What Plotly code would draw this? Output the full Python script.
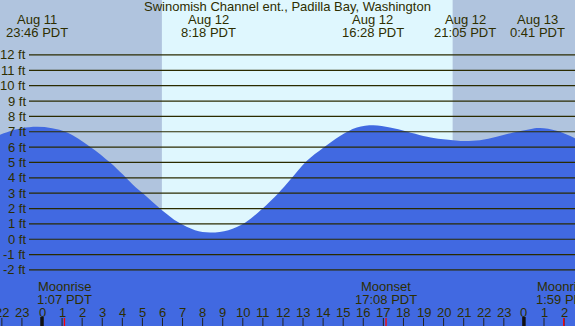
import plotly.graph_objects as go

# ---- data (hours since Aug 12 00:00 PDT) ----
tide_hours = [-2.09, -1.5, -1.0, -0.25, 0.5, 1.25, 2.39, 3.39, 4.03, 4.53, 5.08, 5.96,
              6.79, 7.62, 8.37, 9.28, 10.11, 10.94, 11.77, 12.35, 13.18, 14.01, 14.84,
              15.68, 16.50, 17.33, 18.16, 18.99, 19.5, 20.47, 20.98, 21.81, 22.64, 23.47,
              24.3, 24.8, 25.63, 26.54]
tide_feet = [6.80, 7.08, 7.23, 7.32, 7.23, 6.95, 6.03, 5.00, 4.21, 3.55, 2.93, 1.91,
             1.10, 0.59, 0.44, 0.59, 1.07, 1.95, 3.00, 3.85, 5.09, 5.96, 6.73,
             7.28, 7.43, 7.28, 7.02, 6.73, 6.60, 6.45, 6.40, 6.45, 6.67, 6.95,
             7.17, 7.24, 7.06, 6.58]

event_hours = [-0.233, 8.3, 16.467, 21.083, 24.683]
event_dates = ["Aug 11", "Aug 12", "Aug 12", "Aug 12", "Aug 13"]
event_clock = ["23:46 PDT", "8:18 PDT", "16:28 PDT", "21:05 PDT", "0:41 PDT"]

moon_hours = [1.117, 17.133, 25.983]
moon_names = ["Moonrise", "Moonset", "Moonrise"]
moon_clock = ["1:07 PDT", "17:08 PDT", "1:59 PDT"]

hour_ticks = list(range(-2, 27))
hour_labels = ["22", "23", "0", "1", "2", "3", "4", "5", "6", "7", "8", "9", "10", "11",
               "12", "13", "14", "15", "16", "17", "18", "19", "20", "21", "22", "23",
               "0", "1", "2"]
midnight_hours = [0, 24]

ft_levels = [12, 11, 10, 9, 8, 7, 6, 5, 4, 3, 2, 1, 0, -1, -2]
ft_labels = ["12 ft", "11 ft", "10 ft", "9 ft", "8 ft", "7 ft", "6 ft", "5 ft", "4 ft",
             "3 ft", "2 ft", "1 ft", "0 ft", "-1 ft", "-2 ft"]

sunrise_hour = 5.97
sunset_hour = 20.45

X0, X1 = -2.092, 26.544
Y0, Y1 = -5.65, 15.58
W, H = 575, 326

TXT = "#2e2e00"
FONT = "Liberation Sans"
NIGHT = "#b0c4de"
DAY = "#dff7fe"
WATER = "#4169e1"

def py(px):
    return 1 - px / H

fig = go.Figure()
fig.add_trace(go.Scatter(x=[X0 - 1, X1 + 1], y=[Y0 - 1, Y0 - 1], mode="lines",
                         line=dict(width=0), hoverinfo="skip", showlegend=False))
fig.add_trace(go.Scatter(x=tide_hours, y=tide_feet, mode="lines",
                         line=dict(width=0, shape="spline", smoothing=1.0),
                         fill="tonexty", fillcolor=WATER, hoverinfo="skip", showlegend=False))

shapes = []
# night bands
shapes.append(dict(type="rect", xref="x", yref="paper", x0=X0 - 1, x1=sunrise_hour,
                   y0=0, y1=1, fillcolor=NIGHT, line=dict(width=0), layer="below"))
shapes.append(dict(type="rect", xref="x", yref="paper", x0=sunset_hour, x1=X1 + 1,
                   y0=0, y1=1, fillcolor=NIGHT, line=dict(width=0), layer="below"))
# level lines
for lv in ft_levels:
    shapes.append(dict(type="line", xref="paper", yref="y", x0=29 / W, x1=1, y0=lv, y1=lv,
                       line=dict(color="#2b2b00", width=1.2), layer="above"))
# hour ticks
for h in hour_ticks:
    shapes.append(dict(type="line", xref="x", yref="paper", x0=h, x1=h, y0=0, y1=py(318),
                       line=dict(color="#222222", width=1), layer="above"))
for h in midnight_hours:
    shapes.append(dict(type="line", xref="x", yref="paper", x0=h, x1=h, y0=0, y1=py(317),
                       line=dict(color="#111111", width=3.5), layer="above"))
for h in moon_hours:
    shapes.append(dict(type="line", xref="x", yref="paper", x0=h, x1=h, y0=0, y1=py(318),
                       line=dict(color="#ff0000", width=1.3), layer="above"))

ann = []
f = dict(family=FONT, size=13, color=TXT)
ann.append(dict(text="Swinomish Channel ent., Padilla Bay, Washington", xref="paper", yref="paper",
                x=0.5, y=py(7), xanchor="center", yanchor="middle", showarrow=False, font=f,
                borderpad=0))
for h, d, c in zip(event_hours, event_dates, event_clock):
    ann.append(dict(text=d, xref="x", yref="paper", x=h, y=py(19), xanchor="center",
                    yanchor="middle", showarrow=False, font=f, borderpad=0))
    ann.append(dict(text=c, xref="x", yref="paper", x=h, y=py(32.5), xanchor="center",
                    yanchor="middle", showarrow=False, font=f, borderpad=0))
for lv, lab in zip(ft_levels, ft_labels):
    ann.append(dict(text=lab, xref="paper", yref="y", x=27 / W, y=lv, xanchor="right",
                    yanchor="middle", showarrow=False, font=f, borderpad=0))
for h, lab in zip(hour_ticks, hour_labels):
    ann.append(dict(text=lab, xref="x", yref="paper", x=h, y=py(312), xanchor="center",
                    yanchor="middle", showarrow=False, font=f, borderpad=0))
for h, n, c in zip(moon_hours, moon_names, moon_clock):
    ann.append(dict(text=n, xref="x", yref="paper", x=h, y=py(286), xanchor="center",
                    yanchor="middle", showarrow=False, font=f, borderpad=0))
    ann.append(dict(text=c, xref="x", yref="paper", x=h, y=py(299.5), xanchor="center",
                    yanchor="middle", showarrow=False, font=f, borderpad=0))

fig.update_layout(
    width=W, height=H,
    margin=dict(l=0, r=0, t=0, b=0),
    plot_bgcolor=DAY, paper_bgcolor=DAY,
    xaxis=dict(range=[X0, X1], visible=False, fixedrange=True),
    yaxis=dict(range=[Y0, Y1], visible=False, fixedrange=True),
    shapes=shapes, annotations=ann, showlegend=False, hovermode=False,
)

fig.write_html("out.html", config={"displayModeBar": False},
               post_script="document.body.style.margin='0';document.body.style.overflow='hidden';")
